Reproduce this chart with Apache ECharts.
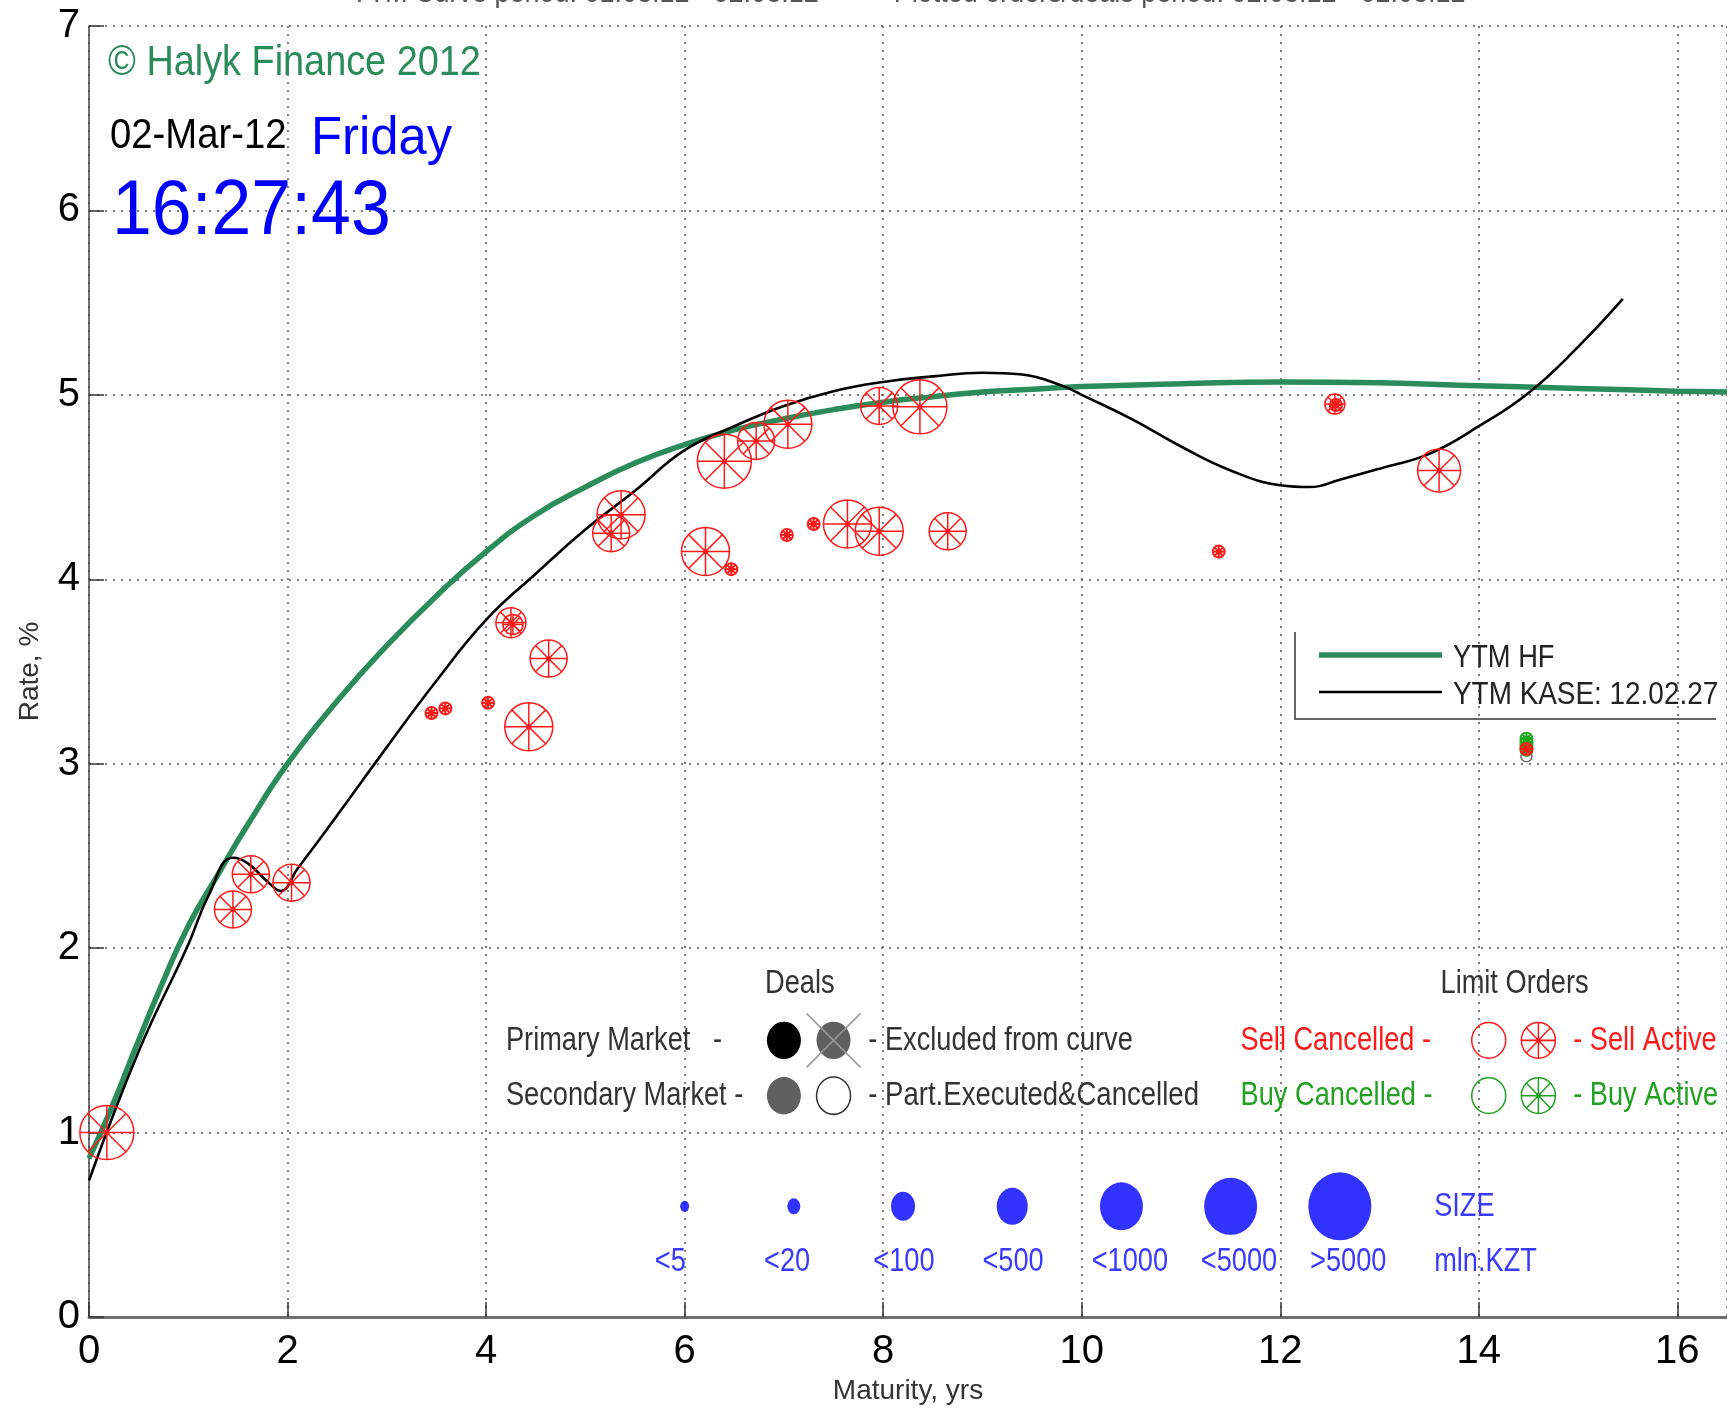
<!DOCTYPE html>
<html><head><meta charset="utf-8">
<script src="https://cdn.jsdelivr.net/npm/echarts@6/dist/echarts.min.js"></script>
<style>html,body{margin:0;padding:0;background:#fff}#c{width:1727px;height:1410px}</style>
</head><body><div id="c"></div>
<script>
// ---------------- data ----------------
const hfX = [0.0,0.2,0.5,0.7,1.0,1.3,1.6,2.0,2.5,3.0,3.5,4.0,4.5,5.0,5.5,6.0,6.5,7.0,7.5,8.0,8.5,9.0,9.5,10.0,11.0,12.0,13.0,14.0,15.0,16.0,16.5];
const hfY = [0.86,1.10,1.50,1.76,2.12,2.40,2.67,3.00,3.34,3.64,3.91,4.15,4.35,4.50,4.63,4.73,4.81,4.87,4.92,4.96,4.99,5.015,5.03,5.045,5.06,5.07,5.065,5.05,5.035,5.02,5.015];

const kaseX = [0.0,0.5,1.0,1.2,1.45,1.6,1.8,1.93,2.1,2.5,3.0,3.5,4.0,4.5,5.0,5.5,6.0,6.5,7.0,7.5,8.0,8.5,9.0,9.4,9.8,10.0,10.5,11.0,11.5,12.0,12.3,12.6,13.0,13.5,14.0,14.5,15.0,15.45];
const kaseY = [0.74,1.44,2.02,2.28,2.49,2.46,2.36,2.31,2.43,2.72,3.09,3.45,3.78,4.03,4.27,4.48,4.70,4.83,4.94,5.02,5.07,5.10,5.12,5.11,5.05,5.00,4.87,4.72,4.59,4.51,4.50,4.54,4.60,4.68,4.83,5.01,5.26,5.52];

// sell active limit orders: maturity, rate, size class (0:<5 ... 6:>5000)
const sellX   = [0.18,1.45,1.63,2.04,3.45,3.59,4.02,4.25,4.27,4.63,4.43,5.26,5.36,6.21,6.47,6.40,6.72,7.04,7.03,7.30,7.64,7.96,8.65,7.96,8.37,11.38,12.55,12.56,13.60,14.48];
const sellY   = [1.00,2.21,2.40,2.355,3.275,3.30,3.33,3.765,3.755,3.57,3.20,4.25,4.35,4.15,4.055,4.64,4.75,4.84,4.24,4.30,4.30,4.26,4.26,4.94,4.935,4.15,4.95,4.945,4.59,3.08];
const sellCat = [6,3,3,3,0,0,0,2,1,3,5,3,5,5,0,6,3,5,0,0,5,5,3,3,6,0,1,0,4,0];

// buy active limit orders
const buyX   = [14.48,14.48,14.48,14.48];
const buyY   = [3.135,3.115,3.095,3.075];
const buyCat = [0,0,0,0];

// part executed & cancelled deals
const partX = [14.48];
const partY = [3.04];

const sizeKeyLabels = ['<5','<20','<100','<500','<1000','<5000','>5000'];
const sizeKeyX = [6.0,7.1,8.2,9.3,10.4,11.5,12.6];

const titleText = 'YTM Curve period: 01.03.12 - 02.03.12          Plotted orders/deals period: 02.03.12 - 02.03.12';

// ---------------- styles ----------------
const FONT = "'Liberation Sans', Arial, sans-serif";
const RED = '#ff1a1a', GREEN_T = '#22a022', HF = '#2a8c5a', BLUE = '#0000ff';
const CAT_R = [6, 10, 15, 18.5, 21.5, 24, 27];
const SIZE_KEY_WH = [[9,11],[13,16],[24,29],[31,37],[43,48],[53,57],[63,68]];

function spokes(cx, cy, r, color, lw) {
  const ch = [{type:'circle', shape:{cx, cy, r}, style:{fill:'none', stroke:color, lineWidth:lw}}];
  for (let k = 0; k < 4; k++) {
    const a = k * Math.PI / 4, dx = r * Math.cos(a), dy = r * Math.sin(a);
    ch.push({type:'line', shape:{x1:cx-dx, y1:cy-dy, x2:cx+dx, y2:cy+dy}, style:{stroke:color, lineWidth:lw}});
  }
  ch.push({type:'circle', shape:{cx, cy, r: r < 8 ? 3 : 2.6}, style:{fill:color}});
  return ch;
}
function spokeRenderer(color) {
  return function (params, api) {
    const c = api.coord([api.value(0), api.value(1)]);
    const r = CAT_R[api.value(2)];
    return {type:'group', children: spokes(c[0], c[1], r, color, r < 8 ? 2 : 1.5)};
  };
}
const zip3 = (a, b, c) => a.map((v, i) => [v, b[i], c[i]]);
const zip2 = (a, b) => a.map((v, i) => [v, b[i]]);

const chart = echarts.init(document.getElementById('c'));
chart.setOption({
  animation: false,
  backgroundColor: '#fff',
  grid: {left: 89, top: 26, width: 1642, height: 1296},
  xAxis: {
    type: 'value', min: 0, max: 16.5, interval: 2,
    name: 'Maturity, yrs', nameLocation: 'middle', nameGap: 60,
    nameTextStyle: {fontFamily: FONT, fontSize: 28, color: '#333'},
    axisLine: {show: true, onZero: false, lineStyle: {color: '#6e6e6e', width: 3}},
    axisTick: {show: true, inside: true, length: 15, lineStyle: {color: '#333', width: 1.5}},
    axisLabel: {showMaxLabel: false, fontFamily: FONT, fontSize: 40, color: '#000', margin: 15},
    splitLine: {show: true, lineStyle: {type: [2, 6], color: '#555', width: 1.5}}
  },
  yAxis: {
    type: 'value', min: 0, max: 7, interval: 1,
    name: 'Rate, %', nameLocation: 'middle', nameGap: 45, nameRotate: 90,
    nameTextStyle: {fontFamily: FONT, fontSize: 28, color: '#333'},
    axisLine: {show: true, onZero: false, lineStyle: {color: '#444', width: 1.5}},
    axisTick: {show: true, inside: true, length: 15, lineStyle: {color: '#333', width: 1.5}},
    axisLabel: {fontFamily: FONT, fontSize: 40, color: '#000', margin: 9},
    splitLine: {show: true, lineStyle: {type: [2, 6], color: '#555', width: 1.5}}
  },
  series: [
    {type: 'line', name: 'YTM HF', data: zip2(hfX, hfY), showSymbol: false, smooth: 0.5,
     lineStyle: {color: HF, width: 5.5}, z: 3},
    {type: 'line', name: 'YTM KASE', data: zip2(kaseX, kaseY), showSymbol: false, smooth: 0.45,
     lineStyle: {color: '#000', width: 2.6}, z: 4},
    {type: 'scatter', name: 'size key', data: sizeKeyX.map(x => [x, 0.6]),
     symbol: 'circle', symbolSize: (v, p) => SIZE_KEY_WH[p.dataIndex], itemStyle: {color: BLUE}, z: 5},
    {type: 'scatter', name: 'part executed', data: zip2(partX, partY), symbol: 'circle', symbolSize: 11,
     itemStyle: {color: '#fff', borderColor: '#444', borderWidth: 1.5}, z: 5},
    {type: 'custom', name: 'buy active', data: zip3(buyX, buyY, buyCat), renderItem: spokeRenderer('#1faa1f'), clip: false, z: 6},
    {type: 'custom', name: 'sell active', data: zip3(sellX, sellY, sellCat), renderItem: spokeRenderer(RED), clip: false, z: 7}
  ]
});

// ---------------- annotations (positioned through the grid scales) ----------------
function P(x, y) { return chart.convertToPixel({gridIndex: 0}, [x, y]); }
function T(x, y, text, color, size, align, sx) {
  const p = P(x, y);
  return {type: 'text', x: p[0], y: p[1], scaleX: sx || 0.8, z: 20,
    style: {text, fill: color, fontFamily: FONT, fontSize: size || 34, align: align || 'left', verticalAlign: 'middle'}};
}
const g = [];
// header texts
g.push({type:'text', x:908, y:9, scaleX:0.9, z:20, style:{text: titleText, fill:'#555', fontFamily: FONT, fontSize: 30, align:'center', verticalAlign:'bottom'}});
g.push({type:'text', x:108, y:63, scaleX:0.88, z:20, style:{text:'\u00A9 Halyk Finance 2012', fill: HF, fontFamily: FONT, fontSize: 43, verticalAlign:'middle'}});
g.push({type:'text', x:110, y:136, scaleX:0.89, z:20, style:{text:'02-Mar-12', fill:'#000', fontFamily: FONT, fontSize: 43, verticalAlign:'middle'}});
g.push({type:'text', x:311, y:139, scaleX:0.94, z:20, style:{text:'Friday', fill: BLUE, fontFamily: FONT, fontSize: 54, verticalAlign:'middle'}});
g.push({type:'text', x:112, y:213, scaleX:0.93, z:20, style:{text:'16:27:43', fill: BLUE, fontFamily: FONT, fontSize: 77, verticalAlign:'middle'}});

// YTM legend box
g.push({type:'polyline', z:20, shape:{points:[[1295,632],[1295,719],[1716,719]]}, style:{stroke:'#333', lineWidth:1.5, fill:'none'}});
g.push({type:'line', z:20, shape:{x1:1319, y1:655, x2:1442, y2:655}, style:{stroke: HF, lineWidth:5.5}});
g.push({type:'line', z:20, shape:{x1:1319, y1:692, x2:1442, y2:692}, style:{stroke:'#000', lineWidth:2.6}});
g.push({type:'text', x:1453, y:658, scaleX:0.88, z:20, style:{text:'YTM HF', fill:'#222', fontFamily: FONT, fontSize: 31, verticalAlign:'middle'}});
g.push({type:'text', x:1453, y:695, scaleX:0.9, z:20, style:{text:'YTM KASE: 12.02.27', fill:'#222', fontFamily: FONT, fontSize: 31, verticalAlign:'middle'}});

// Deals legend
g.push(T(7.16, 1.81, 'Deals', '#333', 34, 'center'));
g.push(T(4.2, 1.5, 'Primary Market   -', '#333'));
g.push(T(4.2, 1.2, 'Secondary Market -', '#333'));
g.push(T(7.85, 1.5, '- Excluded from curve', '#333'));
g.push(T(7.85, 1.2, '- Part.Executed&Cancelled', '#333', 34, 'left', 0.81));
(function () {
  const a = P(7.0, 1.5), b = P(7.5, 1.5), c = P(7.0, 1.2), d = P(7.5, 1.2);
  g.push({type:'circle', x:a[0], y:a[1], scaleY:1.1, z:20, shape:{cx:0, cy:0, r:17}, style:{fill:'#000'}});
  g.push({type:'circle', x:b[0], y:b[1], scaleY:1.1, z:20, shape:{cx:0, cy:0, r:17}, style:{fill:'#606060'}});
  g.push({type:'line', z:21, shape:{x1:b[0]-27, y1:b[1]-27, x2:b[0]+27, y2:b[1]+27}, style:{stroke:'#999', lineWidth:1.5}});
  g.push({type:'line', z:21, shape:{x1:b[0]-27, y1:b[1]+27, x2:b[0]+27, y2:b[1]-27}, style:{stroke:'#999', lineWidth:1.5}});
  g.push({type:'circle', x:c[0], y:c[1], scaleY:1.1, z:20, shape:{cx:0, cy:0, r:17}, style:{fill:'#606060'}});
  g.push({type:'circle', x:d[0], y:d[1], scaleY:1.1, z:20, shape:{cx:0, cy:0, r:17}, style:{fill:'#fff', stroke:'#333', lineWidth:1.5}});
})();

// Limit orders legend
g.push(T(14.36, 1.81, 'Limit Orders', '#333', 34, 'center'));
g.push(T(11.6, 1.5, 'Sell Cancelled -', RED));
g.push(T(11.6, 1.2, 'Buy Cancelled -', GREEN_T));
g.push(T(14.95, 1.5, '- Sell Active', RED));
g.push(T(14.95, 1.2, '- Buy Active', GREEN_T));
(function () {
  const a = P(14.1, 1.5), b = P(14.6, 1.5), c = P(14.1, 1.2), d = P(14.6, 1.2);
  g.push({type:'circle', x:a[0], y:a[1], scaleY:1.05, z:20, shape:{cx:0, cy:0, r:17}, style:{fill:'none', stroke:RED, lineWidth:1.5}});
  g.push({type:'group', x:b[0], y:b[1], scaleY:1.05, z:20, children: spokes(0, 0, 17, RED, 1.5)});
  g.push({type:'circle', x:c[0], y:c[1], scaleY:1.05, z:20, shape:{cx:0, cy:0, r:17}, style:{fill:'none', stroke:GREEN_T, lineWidth:1.5}});
  g.push({type:'group', x:d[0], y:d[1], scaleY:1.05, z:20, children: spokes(0, 0, 17, GREEN_T, 1.5)});
})();

// Size key labels
sizeKeyLabels.forEach((s, i) => g.push(T(sizeKeyX[i] - 0.3, 0.3, s, '#3a3aff')));
g.push(T(13.55, 0.6, 'SIZE', '#3a3aff'));
g.push(T(13.55, 0.3, 'mln.KZT', '#3a3aff'));

chart.setOption({graphic: {elements: g}});
</script>
</body></html>
